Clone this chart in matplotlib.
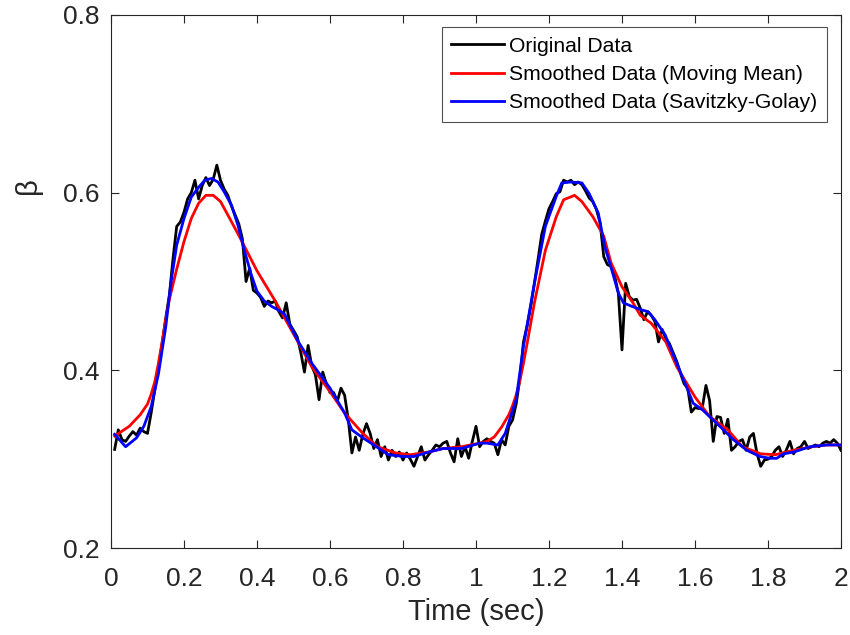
import matplotlib
matplotlib.use("Agg")
import matplotlib.pyplot as plt
from matplotlib.ticker import FormatStrFormatter
import numpy as np

# sample times of the raw signal (0.01 s grid)
t_orig = np.round(np.arange(1, 201) * 0.01, 2)

# original beta values, 0.01 .. 2.00 s
beta_orig = [
    0.311, 0.333, 0.322, 0.320, 0.326, 0.331, 0.327, 0.335, 0.331, 0.329,
    0.352, 0.378, 0.404, 0.430, 0.459, 0.485, 0.526, 0.562, 0.567, 0.578,
    0.593, 0.600, 0.614, 0.593, 0.608, 0.617, 0.608, 0.615, 0.631, 0.614,
    0.604, 0.597, 0.585, 0.575, 0.565, 0.548, 0.500, 0.515, 0.490, 0.487,
    0.482, 0.472, 0.478, 0.476, 0.478, 0.466, 0.459, 0.476, 0.452, 0.445,
    0.438, 0.420, 0.398, 0.428, 0.405, 0.395, 0.367, 0.398, 0.385, 0.375,
    0.375, 0.365, 0.380, 0.372, 0.345, 0.307, 0.325, 0.310, 0.328, 0.340,
    0.329, 0.312, 0.322, 0.303, 0.314, 0.299, 0.310, 0.303, 0.308, 0.299,
    0.307, 0.300, 0.292, 0.303, 0.314, 0.299, 0.305, 0.310, 0.316, 0.314,
    0.318, 0.320, 0.307, 0.297, 0.323, 0.303, 0.314, 0.301, 0.320, 0.337,
    0.314, 0.320, 0.323, 0.320, 0.318, 0.305, 0.322, 0.316, 0.337, 0.344,
    0.362, 0.390, 0.432, 0.450, 0.472, 0.498, 0.525, 0.553, 0.568, 0.582,
    0.590, 0.599, 0.601, 0.614, 0.612, 0.614, 0.609, 0.612, 0.609, 0.602,
    0.594, 0.590, 0.581, 0.566, 0.528, 0.519, 0.517, 0.506, 0.487, 0.423,
    0.498, 0.483, 0.479, 0.480, 0.470, 0.457, 0.466, 0.462, 0.455, 0.432,
    0.446, 0.436, 0.430, 0.420, 0.410, 0.397, 0.385, 0.380, 0.353, 0.358,
    0.357, 0.358, 0.383, 0.366, 0.320, 0.348, 0.347, 0.329, 0.345, 0.310,
    0.314, 0.320, 0.322, 0.310, 0.325, 0.329, 0.306, 0.292, 0.299, 0.300,
    0.303, 0.310, 0.314, 0.303, 0.310, 0.320, 0.306, 0.312, 0.314, 0.320,
    0.312, 0.314, 0.316, 0.314, 0.318, 0.320, 0.318, 0.322, 0.318, 0.310,
]

# moving-mean curve (red)
t_mm = [0.01, 0.05, 0.08, 0.10, 0.11, 0.12, 0.13, 0.14, 0.15, 0.16, 0.18,
        0.20, 0.22, 0.24, 0.26, 0.28, 0.30, 0.32, 0.35, 0.40, 0.45, 0.50,
        0.55, 0.60, 0.64, 0.69, 0.73, 0.78, 0.82, 0.87, 0.91, 0.96, 1.01,
        1.03, 1.05, 1.07, 1.09, 1.10, 1.11, 1.12, 1.13, 1.14, 1.15, 1.16,
        1.19, 1.22, 1.24, 1.27, 1.29, 1.32, 1.35, 1.37, 1.40, 1.43, 1.45,
        1.48, 1.52, 1.55, 1.60, 1.64, 1.69, 1.73, 1.78, 1.82, 1.87, 1.92,
        1.96, 2.00]
beta_mm = [0.326, 0.337, 0.350, 0.362, 0.373, 0.387, 0.408, 0.432, 0.457,
           0.480, 0.514, 0.545, 0.571, 0.588, 0.597, 0.597, 0.590, 0.575,
           0.552, 0.512, 0.478, 0.441, 0.404, 0.376, 0.352, 0.329, 0.314,
           0.307, 0.305, 0.308, 0.312, 0.314, 0.318, 0.320, 0.325, 0.336,
           0.350, 0.360, 0.372, 0.388, 0.408, 0.430, 0.453, 0.476, 0.535,
           0.573, 0.592, 0.597, 0.590, 0.573, 0.551, 0.521, 0.494, 0.476,
           0.462, 0.453, 0.432, 0.404, 0.370, 0.348, 0.333, 0.314, 0.306,
           0.305, 0.310, 0.314, 0.316, 0.316]

# Savitzky-Golay curve (blue)
t_sg = [0.01, 0.04, 0.07, 0.09, 0.11, 0.13, 0.15, 0.165, 0.18, 0.20, 0.22,
        0.24, 0.257, 0.275, 0.293, 0.31, 0.33, 0.348, 0.366, 0.384, 0.40,
        0.42, 0.44, 0.458, 0.476, 0.494, 0.512, 0.55, 0.60, 0.64, 0.66,
        0.69, 0.72, 0.76, 0.80, 0.83, 0.87, 0.91, 0.93, 0.96, 1.01, 1.03,
        1.06, 1.08, 1.11, 1.13, 1.16, 1.19, 1.22, 1.235, 1.26, 1.29, 1.31,
        1.335, 1.353, 1.372, 1.39, 1.404, 1.427, 1.454, 1.472, 1.49, 1.518,
        1.55, 1.573, 1.595, 1.622, 1.65, 1.678, 1.705, 1.742, 1.778, 1.805,
        1.824, 1.842, 1.87, 1.915, 1.961, 2.00]
beta_sg = [0.328, 0.314, 0.324, 0.337, 0.359, 0.396, 0.449, 0.501, 0.541,
           0.571, 0.595, 0.606, 0.614, 0.616, 0.612, 0.601, 0.586, 0.563,
           0.534, 0.508, 0.489, 0.478, 0.472, 0.468, 0.463, 0.448, 0.433,
           0.408, 0.380, 0.352, 0.333, 0.324, 0.316, 0.305, 0.303, 0.303,
           0.308, 0.312, 0.312, 0.312, 0.318, 0.318, 0.316, 0.329, 0.367,
           0.427, 0.498, 0.562, 0.596, 0.611, 0.612, 0.611, 0.599, 0.577,
           0.539, 0.513, 0.487, 0.476, 0.472, 0.468, 0.466, 0.457, 0.440,
           0.408, 0.385, 0.363, 0.355, 0.344, 0.333, 0.322, 0.310, 0.303,
           0.301, 0.301, 0.306, 0.308, 0.314, 0.316, 0.316]

GREY = "#262626"
plt.rcParams["font.family"] = ["Liberation Sans", "DejaVu Sans"]

fig = plt.figure(figsize=(8.5, 6.35), dpi=100)
ax = fig.add_axes([111 / 850, 1 - 548 / 635, 730 / 850, 533 / 635])

ax.plot(t_orig, beta_orig, color="black", lw=2, label="Original Data")
ax.plot(t_mm, beta_mm, color="red", lw=2, label="Smoothed Data (Moving Mean)")
ax.plot(t_sg, beta_sg, color="blue", lw=2,
        label="Smoothed Data (Savitzky-Golay)")

ax.set_xlim(0, 2)
ax.set_ylim(0.2, 0.8)
ax.set_xticks(np.round(np.arange(0, 2.01, 0.2), 1))
ax.set_yticks([0.2, 0.4, 0.6, 0.8])
ax.xaxis.set_major_formatter(FormatStrFormatter("%g"))
ax.tick_params(direction="in", length=6, width=0.8, colors=GREY,
               labelsize=19, top=True, right=True, pad=8)
ax.tick_params(axis="x", pad=14)
for s in ax.spines.values():
    s.set_color(GREY)
    s.set_linewidth(0.8)

ax.set_xlabel("Time (sec)", fontsize=21, color=GREY, labelpad=5)
ax.set_ylabel("β", fontsize=21, color=GREY)
ax.yaxis.set_label_coords(-0.095, 0.679)

leg = ax.legend(loc="upper right", bbox_to_anchor=(827 / 850, 1 - 27 / 635),
                bbox_transform=fig.transFigure, borderaxespad=0, fontsize=15.2,
                frameon=True, fancybox=False, edgecolor=GREY,
                handlelength=2.5, handletextpad=0.25, labelspacing=0.45,
                borderpad=0.45)
leg.get_frame().set_linewidth(0.8)

fig.savefig("out.png", dpi=100)
